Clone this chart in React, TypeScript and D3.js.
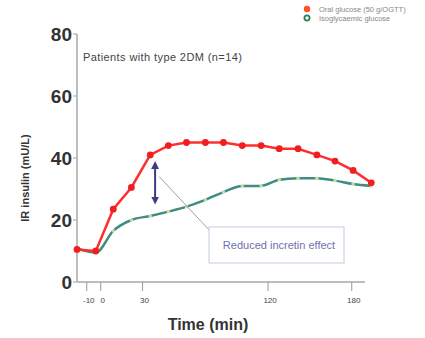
import React from "react";
import * as d3 from "d3";

const times = [-17, -3.5, 9, 22, 35.5, 48.5, 61.5, 75, 88, 101.5, 115, 128, 141.5, 155, 168, 181, 194];
const oralGlucose = [10.5, 10, 23.5, 30.5, 41, 44, 45, 45, 45, 44, 44, 43, 43, 41, 39, 36, 32];
const isoGlucose = [10.8, 9.5, 16.5, 20, 21.3, 22.7, 24.3, 26.5, 29, 31, 31, 33, 33.5, 33.5, 32.7, 31.6, 31];
const xTicks = [-10, 0, 30, 120, 180];
const yTicks = [0, 20, 40, 60, 80];
const legendLabels = ["Oral glucose (50 g/OGTT)", "Isoglycaemic glucose"];
const arrowTime = 39;
const arrowRange = [39, 25];

const W = 425, H = 338;

export default function App() {
  const x = d3.scaleLinear().domain([-17, 189.5]).range([77, 365]);
  const y = d3.scaleLinear().domain([0, 80]).range([282, 34]);

  const red = oralGlucose.map((v, i) => [x(times[i]), y(v)] as [number, number]);
  const green = isoGlucose.map((v, i) => [x(times[i]), y(v)] as [number, number]);
  const lineStraight = d3.line();
  const lineSmooth = d3.line().curve(d3.curveMonotoneX);

  const ax = x(arrowTime);
  const aTop = y(arrowRange[0]);
  const aBot = y(arrowRange[1]);
  const font = "Arial, 'Liberation Sans', sans-serif";

  return (
    <svg width={W} height={H} style={{ position: "absolute", left: 0, top: 0, background: "#fff" }} fontFamily={font}>
      <defs>
        <marker id="ah" viewBox="0 0 10 10" refX="5" refY="5" markerWidth="4" markerHeight="4" orient="auto-start-reverse">
          <path d="M0,0 L10,5 L0,10 z" fill="#3d3d82" />
        </marker>
      </defs>
      {/* axes */}
      <line x1={x.range()[0]} x2={x.range()[0]} y1={y(80)} y2={y(0)} stroke="#bdbdbd" strokeWidth={2} />
      <line x1={x.range()[0]} x2={x.range()[1]} y1={y(0)} y2={y(0)} stroke="#bdbdbd" strokeWidth={2} />
      {yTicks.map((t) => (
        <g key={t}>
          <line x1={x.range()[0] - 4} x2={x.range()[0]} y1={y(t)} y2={y(t)} stroke="#bdbdbd" strokeWidth={1.5} />
          <text x={x.range()[0] - 5} y={y(t)} dy="0.36em" textAnchor="end" fontSize={19} fontWeight="bold" fill="#333">{t}</text>
        </g>
      ))}
      {xTicks.map((t) => (
        <g key={t}>
          <line x1={x(t)} x2={x(t)} y1={y(0)} y2={y(0) + 9} stroke="#999" strokeWidth={1} />
          <text x={x(t) + 2} y={y(0) + 21} textAnchor="middle" fontSize={8} fill="#444">{t}</text>
        </g>
      ))}
      <text x={208} y={330} textAnchor="middle" fontSize={16} fontWeight="bold" fill="#333">Time (min)</text>
      <text transform={`translate(29,${y(40) + 20}) rotate(-90)`} textAnchor="middle" fontSize={11} fontWeight="bold" fill="#333">IR insulin (mU/L)</text>
      <text x={83} y={61} fontSize={11} letterSpacing={0.4} fill="#444">Patients with type 2DM  (n=14)</text>

      {/* series */}
      <path d={lineSmooth(green) || ""} fill="none" stroke="#3f8c82" strokeWidth={2.5} />
      {green.map((p, i) => (
        <circle key={i} cx={p[0]} cy={p[1]} r={1.8} fill="#e4ebb0" opacity={0.8} />
      ))}
      <path d={lineStraight(red) || ""} fill="none" stroke="#ff2d2d" strokeWidth={2.5} />
      {red.map((p, i) => (
        <circle key={i} cx={p[0]} cy={p[1]} r={3.4} fill="#f01e1e" />
      ))}

      {/* annotation */}
      <line x1={ax} x2={ax} y1={aTop + 4} y2={aBot - 4} stroke="#3d3d82" strokeWidth={2} markerStart="url(#ah)" markerEnd="url(#ah)" />
      <line x1={ax + 4} y1={y(34)} x2={212} y2={233} stroke="#888" strokeWidth={0.8} />
      <rect x={209} y={227} width={135} height={36} fill="#fff" stroke="#c9c9e2" strokeWidth={1} />
      <text x={279} y={245} dy="0.35em" textAnchor="middle" fontSize={11} fill="#6f6fb0">Reduced incretin effect</text>

      {/* legend */}
      <circle cx={307} cy={9} r={3.2} fill="#ff5020" />
      <circle cx={307} cy={18} r={2.6} fill="#fff" stroke="#2f7d52" strokeWidth={1.8} />
      <text x={319} y={9} dy="0.35em" fontSize={7.5} fill="#888">{legendLabels[0]}</text>
      <text x={319} y={18} dy="0.35em" fontSize={7.5} fill="#888">{legendLabels[1]}</text>
    </svg>
  );
}
